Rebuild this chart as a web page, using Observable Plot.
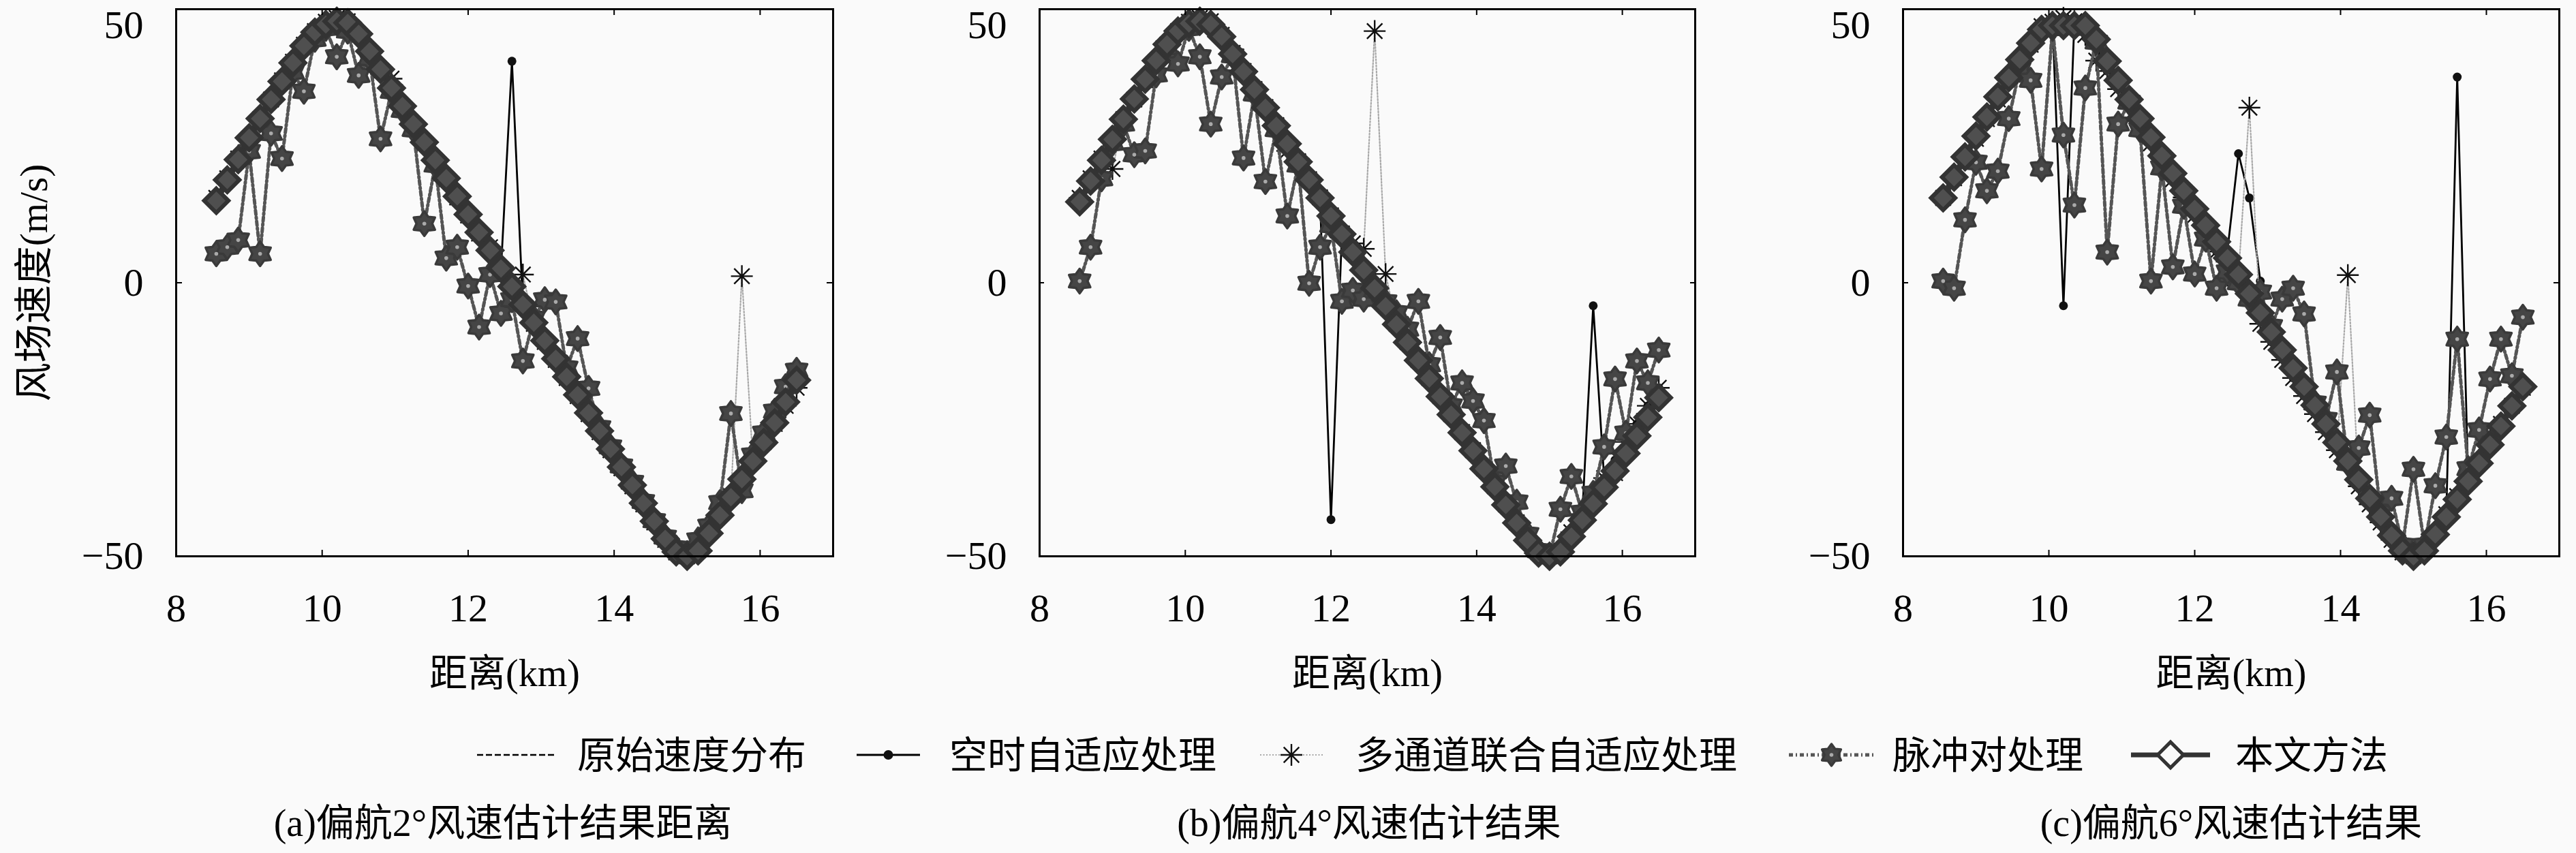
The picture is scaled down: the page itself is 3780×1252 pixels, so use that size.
<!DOCTYPE html>
<html>
<head>
<meta charset="utf-8">
<script src="https://cdn.jsdelivr.net/npm/d3@7"></script>
<script src="https://cdn.jsdelivr.net/npm/@observablehq/plot@0.6"></script>
<style>
html, body { margin: 0; padding: 0; background: #fafafa; }
#root { position: relative; width: 3780px; height: 1252px; overflow: hidden; background: #fafafa; }
#root > svg { position: absolute; top: 0; overflow: visible; }
</style>
</head>
<body>
<div id="root"></div>
<script>
// ---------- data ----------
const distance = [8.55,8.70,8.85,9.00,9.15,9.30,9.45,9.60,9.75,9.90,10.05,10.20,10.35,10.50,10.65,10.80,10.95,11.10,11.25,11.40,11.55,11.70,11.85,12.00,12.15,12.30,12.45,12.60,12.75,12.90,13.05,13.20,13.35,13.50,13.65,13.80,13.95,14.10,14.25,14.40,14.55,14.70,14.85,15.00,15.15,15.30,15.45,15.60,15.75,15.90,16.05,16.20,16.35,16.50];

const truth = [15.5,19.1,22.7,26.3,29.9,33.5,37.0,40.4,43.5,46.0,47.7,48.4,47.8,45.3,42.0,38.7,35.4,32.1,28.8,25.5,22.2,18.9,15.6,12.3,9.0,5.7,2.4,-0.9,-4.2,-7.5,-10.8,-14.1,-17.4,-20.7,-24.0,-27.3,-30.6,-33.9,-37.2,-40.5,-43.8,-47.0,-49.3,-50.0,-48.9,-45.6,-42.3,-39.0,-35.7,-32.4,-29.1,-25.8,-22.5,-19.2];

// panel (a) yaw 2°
const stapA = [15.5,19.1,22.7,26.3,29.9,33.5,37.0,40.4,43.5,46.0,47.7,48.4,47.8,45.3,42.0,38.7,35.4,32.1,28.8,25.5,22.2,18.9,15.6,12.3,9.0,5.7,2.4,40.5,-4.2,-7.5,-10.8,-14.1,-17.4,-20.7,-24.0,-27.3,-30.6,-33.9,-37.2,-40.5,-43.8,-47.0,-49.3,-50.0,-48.9,-45.6,-42.3,-39.0,-35.7,-32.4,-29.1,-25.8,-22.5,-19.2];
const mcA = [15.5,19.1,22.7,26.3,29.9,33.5,37.0,40.4,43.5,46.0,47.7,48.4,47.8,45.3,42.0,38.7,37.3,32.1,28.8,25.5,22.2,18.9,15.6,12.3,9.0,6.5,2.4,-0.9,1.5,-7.5,-10.8,-14.1,-17.4,-20.7,-24.0,-27.3,-30.6,-33.9,-37.2,-40.5,-43.8,-47.0,-49.3,-50.0,-48.9,-45.6,-42.3,-39.0,1.2,-32.4,-29.1,-25.8,-22.5,-19.2];
const ppA = [5.3,6.5,7.8,24.0,5.3,27.3,22.7,38.5,35.0,44.5,46.5,41.3,46.0,37.9,41.0,26.3,35.0,31.5,28.0,10.8,21.5,4.5,6.5,-0.6,-8.1,1.5,-5.6,-3.1,-14.3,-6.5,-3.1,-3.5,-15.6,-10.2,-19.3,-26.5,-30.0,-33.5,-36.5,-40.0,-43.5,-46.5,-48.5,-49.5,-47.0,-44.5,-40.2,-23.9,-38.0,-31.5,-27.5,-23.5,-19.0,-16.0];
const oursA = [15.0,18.8,22.5,26.5,30.0,33.5,36.8,40.2,43.3,45.8,47.2,47.8,47.5,45.5,42.3,39.0,35.6,32.3,29.0,25.7,22.4,19.1,15.8,12.5,9.2,5.9,2.6,-0.7,-4.0,-7.3,-10.6,-13.9,-17.2,-20.5,-23.8,-27.1,-30.4,-33.7,-37.0,-40.3,-43.6,-46.8,-49.2,-50.0,-49.0,-45.8,-42.5,-39.2,-35.9,-32.6,-29.2,-25.6,-21.8,-17.8];

// panel (b) yaw 4°
const stapB = [15.5,19.1,22.7,26.3,29.9,33.5,37.0,40.4,43.5,46.0,47.7,48.4,47.8,45.3,42.0,38.7,35.4,32.1,28.8,25.5,22.2,18.9,15.6,-43.3,9.0,5.7,2.4,-0.9,-4.2,-7.5,-10.8,-14.1,-17.4,-20.7,-24.0,-27.3,-30.6,-33.9,-37.2,-40.5,-43.8,-47.0,-49.3,-50.0,-48.9,-45.6,-42.3,-4.2,-35.7,-32.4,-29.1,-25.8,-22.5,-19.2];
const mcB = [15.5,19.1,22.7,20.8,29.9,33.5,37.0,40.4,43.5,46.0,47.7,48.4,47.8,45.3,42.0,38.7,35.4,32.1,28.8,24.1,22.2,18.9,15.6,12.3,9.0,7.2,6.2,46.0,1.6,-7.5,-10.8,-14.1,-17.4,-20.7,-24.0,-27.3,-30.6,-33.9,-37.2,-40.5,-43.8,-47.0,-49.3,-50.0,-48.9,-45.6,-42.3,-39.0,-35.7,-34.8,-29.1,-25.8,-22.5,-19.2];
const ppB = [0.3,6.5,19.0,25.5,29.0,23.4,24.1,38.0,43.0,40.0,46.5,41.3,29.0,37.6,41.5,22.8,34.5,18.5,28.0,12.2,21.5,-0.1,6.5,10.5,-3.4,-1.4,-3.0,-1.5,-3.5,-5.5,-8.5,-3.4,-15.0,-10.0,-22.5,-18.3,-21.6,-25.2,-36.5,-33.5,-40.1,-46.0,-49.0,-50.0,-41.4,-35.4,-42.0,-38.5,-30.0,-17.6,-27.5,-14.3,-18.3,-12.3];
const oursB = [14.8,18.6,22.4,26.2,29.9,33.6,37.2,40.6,43.6,46.0,47.4,47.8,47.2,45.0,41.8,38.6,35.3,32.0,28.7,25.4,22.1,18.8,15.5,12.2,8.9,5.6,2.3,-1.0,-4.3,-7.6,-10.9,-14.2,-17.5,-20.8,-24.1,-27.4,-30.7,-34.0,-37.3,-40.6,-43.9,-47.1,-49.4,-50.0,-49.2,-46.4,-43.4,-40.4,-37.4,-34.4,-31.2,-28.0,-24.6,-21.0];

// panel (c) yaw 6°
const stapC = [15.5,19.1,22.7,26.3,29.9,33.5,37.0,40.4,43.5,46.0,47.7,-4.2,47.8,45.3,42.0,38.7,35.4,32.1,28.8,25.5,22.2,18.9,15.6,12.3,9.0,5.7,6.0,23.6,15.5,0.3,-10.8,-12.3,-17.4,-20.7,-24.0,-27.3,-30.6,-33.9,-37.2,-40.5,-43.8,-47.0,-49.3,-50.0,-48.9,-45.6,-42.3,37.6,-35.7,-32.4,-29.1,-26.5,-23.5,-19.2];
const mcC = [15.5,19.1,22.7,26.3,29.9,33.5,37.0,40.4,43.5,46.9,47.7,48.4,47.8,45.3,40.6,38.7,35.4,32.1,28.8,25.5,22.2,18.9,15.6,12.3,9.0,5.7,1.3,1.3,32.0,-7.5,-10.8,-14.1,-17.4,-20.7,-24.0,-27.3,-30.6,1.4,-37.2,-40.5,-43.8,-47.0,-49.3,-50.0,-48.9,-45.6,-42.3,-39.0,-35.7,-32.4,-28.8,-25.8,-22.5,-19.2];
const ppC = [0.3,-1.0,11.5,22.0,16.8,20.4,30.0,39.0,37.0,20.8,46.5,27.0,14.2,35.6,44.0,5.6,29.0,33.0,28.0,0.3,21.0,2.9,14.0,1.6,8.0,-1.0,2.0,0.0,-3.0,-1.7,-8.0,-3.0,-1.0,-5.7,-22.0,-25.0,-16.3,-33.0,-30.2,-24.2,-42.0,-39.4,-48.0,-34.1,-48.0,-37.1,-28.2,-10.3,-34.0,-26.9,-17.6,-10.3,-17.0,-6.3];
const oursC = [15.5,19.3,23.0,26.8,30.3,34.0,37.5,40.8,43.8,46.3,47.0,47.0,47.0,47.0,44.5,40.5,37.0,33.5,30.0,26.6,23.2,20.0,16.8,13.5,10.5,7.5,4.5,1.5,-2.0,-5.5,-9.0,-12.3,-15.6,-19.0,-22.4,-25.8,-29.2,-32.6,-36.0,-39.4,-42.8,-46.2,-49.0,-50.0,-49.0,-46.0,-42.8,-39.6,-36.3,-33.0,-29.6,-26.2,-22.5,-19.0];

const xTicks = [8, 10, 12, 14, 16];
const yTicks = [-50, 0, 50];
const seriesNames = ["原始速度分布", "空时自适应处理", "多通道联合自适应处理", "脉冲对处理", "本文方法"];
const captions = ["(a)偏航2°风速估计结果距离", "(b)偏航4°风速估计结果", "(c)偏航6°风速估计结果"];
const xLabel = "距离(km)";
const yLabel = "风场速度(m/s)";

// ---------- symbols ----------
const hexFlower = {
  draw(ctx, size) {
    const R = Math.sqrt(size / Math.PI), r = R * 0.64;
    for (let i = 0; i < 12; i++) {
      const a = Math.PI / 6 * i - Math.PI / 2;
      const rad = i % 2 === 0 ? R : r;
      const px = rad * Math.cos(a), py = rad * Math.sin(a);
      if (i === 0) ctx.moveTo(px, py); else ctx.lineTo(px, py);
    }
    ctx.closePath();
  }
};
const asterisk8 = {
  draw(ctx, size) {
    const R = Math.sqrt(size / Math.PI), d = R * Math.SQRT1_2;
    ctx.moveTo(-R, 0); ctx.lineTo(R, 0);
    ctx.moveTo(0, -R); ctx.lineTo(0, R);
    ctx.moveTo(-d, -d); ctx.lineTo(d, d);
    ctx.moveTo(-d, d); ctx.lineTo(d, -d);
  }
};

const FONT = '"Liberation Serif", "Noto Sans CJK SC", serif';
const styles = {
  truth: {stroke: "#000", strokeWidth: 2.5, strokeDasharray: "9,4"},
  stap: {stroke: "#000", strokeWidth: 2.8},
  mc: {stroke: "#a8a8a8", strokeWidth: 2.2, strokeDasharray: "2,2.5"},
  pp: {stroke: "#555", strokeWidth: 5, strokeDasharray: "6,4,2,4"},
  ours: {stroke: "#333", strokeWidth: 9}
};
const flowerStyle = {fill: "#454545", stroke: "#3a3a3a", strokeWidth: 3.5, strokeLinejoin: "round"};
const diamondStyle = {fill: "#4f4f4f", stroke: "#333", strokeWidth: 6};

function panel(stap, mc, pp, ours, left, marginRight, withYLabel) {
  const rows = distance.map((x, i) => ({x, truth: truth[i], stap: stap[i], mc: mc[i], pp: pp[i], ours: ours[i]}));
  const marks = [
    Plot.line(rows, {x: "x", y: "truth", ...styles.truth}),
    Plot.line(rows, {x: "x", y: "stap", ...styles.stap}),
    Plot.dot(rows, {x: "x", y: "stap", r: 6.5, fill: "#111", stroke: "none"}),
    Plot.line(rows, {x: "x", y: "mc", ...styles.mc}),
    Plot.dot(rows, {x: "x", y: "mc", symbol: asterisk8, r: 16, fill: "none", stroke: "#111", strokeWidth: 2.4}),
    Plot.line(rows, {x: "x", y: "pp", ...styles.pp}),
    Plot.dot(rows, {x: "x", y: "pp", symbol: hexFlower, r: 18, ...flowerStyle}),
    Plot.dot(rows, {x: "x", y: "pp", r: 2.8, fill: "#aaa", stroke: "none"}),
    Plot.line(rows, {x: "x", y: "ours", ...styles.ours}),
    Plot.dot(rows, {x: "x", y: "ours", symbol: "diamond2", r: 16, ...diamondStyle}),
    Plot.frame({stroke: "#000", strokeWidth: 3}),
    Plot.ruleX(xTicks, {x: d => d, insetTop: 794, stroke: "#000", strokeWidth: 2}),
    Plot.ruleX(xTicks, {x: d => d, insetBottom: 794, stroke: "#000", strokeWidth: 2}),
    Plot.ruleY(yTicks, {y: d => d, insetRight: 955, stroke: "#000", strokeWidth: 2}),
    Plot.ruleY(yTicks, {y: d => d, insetLeft: 955, stroke: "#000", strokeWidth: 2}),
    Plot.axisX(xTicks, {anchor: "bottom", tickSize: 0, tickPadding: 54, fontSize: 58, label: null}),
    Plot.axisY(yTicks.filter(d => d < 50), {anchor: "left", tickSize: 0, tickPadding: 48, fontSize: 58, label: null}),
    // the top tick label sits just inside the figure edge, as in the original
    Plot.text(yTicks.filter(d => d >= 50), {y: d => d, text: d => String(d), frameAnchor: "left", textAnchor: "end", lineAnchor: "middle", dx: -48, dy: 24, fontSize: 58, fill: "#000"}),
    Plot.text([xLabel], {frameAnchor: "bottom", textAnchor: "middle", lineAnchor: "middle", dy: 173, fontSize: 56, fill: "#000"})
  ];
  if (withYLabel) marks.push(Plot.text([yLabel], {frameAnchor: "left", textAnchor: "middle", lineAnchor: "middle", dx: -208, rotate: -90, fontSize: 57, fill: "#000"}));
  const svg = Plot.plot({
    width: 1260, height: 1040,
    marginLeft: 258, marginRight, marginTop: 13, marginBottom: 224,
    x: {domain: [8, 17]},
    y: {domain: [-50, 50]},
    style: {fontFamily: FONT, fontSize: "56px", background: "transparent", color: "#000", overflow: "visible"},
    marks
  });
  svg.style.left = left + "px";
  return svg;
}

const root = document.getElementById("root");
root.appendChild(panel(stapA, mcA, ppA, oursA, 0, 38, true));
root.appendChild(panel(stapB, mcB, ppB, oursB, 1267, 40, false));
root.appendChild(panel(stapC, mcC, ppC, oursC, 2534, 39, false));

// ---------- legend + captions (below the plots) ----------
const leg = d3.select(root).append("svg")
  .attr("width", 3780).attr("height", 212)
  .style("left", "0px").style("top", "1040px")
  .style("font-family", FONT);
const ly = 68;
const items = [
  {x0: 700, x1: 817, tx: 847, key: "truth"},
  {x0: 1257, x1: 1350, tx: 1393, key: "stap"},
  {x0: 1849, x1: 1941, tx: 1989, key: "mc"},
  {x0: 2625, x1: 2750, tx: 2777, key: "pp"},
  {x0: 3127, x1: 3243, tx: 3280, key: "ours"}
];
items.forEach((it, i) => {
  const s = styles[it.key];
  leg.append("line").attr("x1", it.x0).attr("x2", it.x1).attr("y1", ly).attr("y2", ly)
    .attr("stroke", s.stroke).attr("stroke-width", it.key === "ours" ? 7 : s.strokeWidth)
    .attr("stroke-dasharray", s.strokeDasharray || null);
  const cx = (it.x0 + it.x1) / 2;
  const g = leg.append("g").attr("transform", `translate(${cx},${ly})`);
  if (it.key === "stap") g.append("circle").attr("r", 7).attr("fill", "#111");
  if (it.key === "mc") g.append("path").attr("d", d3.symbol(asterisk8, Math.PI * 16 * 16)()).attr("fill", "none").attr("stroke", "#111").attr("stroke-width", 2.4);
  if (it.key === "pp") {
    g.append("path").attr("d", d3.symbol(hexFlower, Math.PI * 16 * 16)())
      .attr("fill", flowerStyle.fill).attr("stroke", flowerStyle.stroke).attr("stroke-width", flowerStyle.strokeWidth).attr("stroke-linejoin", "round");
    g.append("circle").attr("r", 2.8).attr("fill", "#aaa");
  }
  if (it.key === "ours") g.append("path").attr("d", d3.symbol(d3.symbolDiamond2, Math.PI * 17 * 17)()).attr("fill", "#fafafa").attr("stroke", "#333").attr("stroke-width", 5);
  leg.append("text").attr("x", it.tx).attr("y", ly + 20).attr("font-size", 56).attr("fill", "#000").text(seriesNames[i]);
});
const capX = [738, 2009, 3274];
captions.forEach((c, i) => {
  leg.append("text").attr("x", capX[i]).attr("y", 187).attr("text-anchor", "middle")
    .attr("font-size", 56).attr("fill", "#000").text(c);
});
</script>
</body>
</html>
